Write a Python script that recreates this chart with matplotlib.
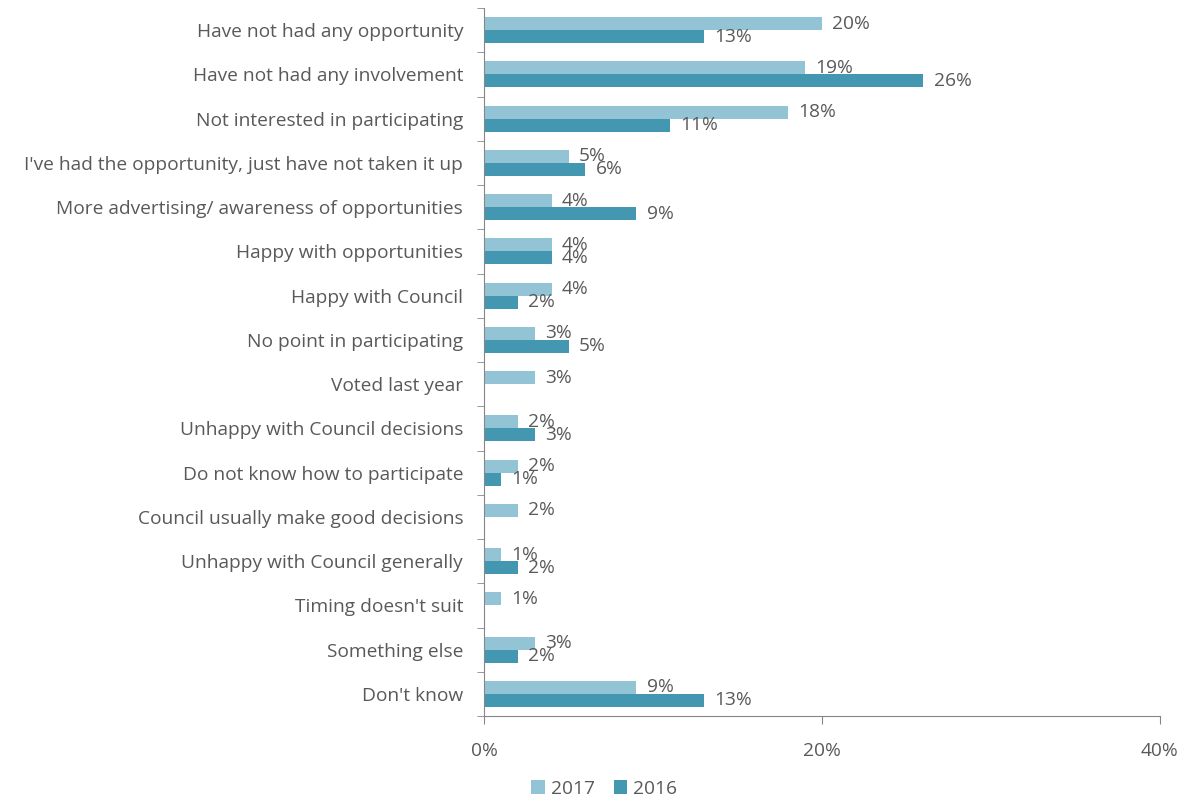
import numpy as np
import matplotlib
matplotlib.use('Agg')
import matplotlib.pyplot as plt

plt.rcParams['font.family'] = ['Open Sans', 'DejaVu Sans']

# Reasons for not participating
categories = [
    "Have not had any opportunity",
    "Have not had any involvement",
    "Not interested in participating",
    "I've had the opportunity, just have not taken it up",
    "More advertising/ awareness of opportunities",
    "Happy with opportunities",
    "Happy with Council",
    "No point in participating",
    "Voted last year",
    "Unhappy with Council decisions",
    "Do not know how to participate",
    "Council usually make good decisions",
    "Unhappy with Council generally",
    "Timing doesn't suit",
    "Something else",
    "Don't know",
]
vals_2017 = [20, 19, 18, 5, 4, 4, 4, 3, 3, 2, 2, 2, 1, 1, 3, 9]
vals_2016 = [13, 26, 11, 6, 9, 4, 2, 5, None, 3, 1, None, 2, None, 2, 13]
xticks = [0, 20, 40]

c17 = '#93c4d6'
c16 = '#4397b0'
txt = '#595959'
axc = '#868686'
fs = 13.8

fig = plt.figure(figsize=(11.94, 8), dpi=100)
ax = fig.add_axes([0.4054, 0.105, 0.5661, 0.885])

y = np.arange(len(categories))
h = 0.293

def draw(vals, off, color, label):
    yy = [y[i] + off for i, v in enumerate(vals) if v is not None]
    vv = [v for v in vals if v is not None]
    ax.barh(yy, vv, height=h, color=color, label=label)
    for yi, v in zip(yy, vv):
        ax.annotate(f"{v}%", (v, yi), xytext=(7.5, 0), textcoords='offset points',
                    va='center', ha='left', fontsize=fs, color=txt)

draw(vals_2017, -h / 2, c17, '2017')
draw(vals_2016, h / 2, c16, '2016')

ax.set_ylim(len(categories) - 0.5, -0.5)
ax.set_xlim(0, 40)
ax.set_xticks(xticks)
ax.set_xticklabels([f"{t}%" for t in xticks])
ax.set_yticks(y)
ax.set_yticklabels(categories)
ax.set_yticks(np.arange(len(categories) + 1) - 0.5, minor=True)
ax.tick_params(axis='y', which='major', length=0, pad=15, labelsize=fs, labelcolor=txt)
ax.tick_params(axis='y', which='minor', length=5, color=axc, direction='out')
ax.tick_params(axis='x', length=6, color=axc, pad=13, labelsize=fs, labelcolor=txt)

for s in ['top', 'right']:
    ax.spines[s].set_visible(False)
for s in ['left', 'bottom']:
    ax.spines[s].set_color(axc)

fig.legend(loc='center', bbox_to_anchor=(0.506, 0.014), ncol=2, frameon=False,
           fontsize=fs, labelcolor=txt, handlelength=0.7, handleheight=0.7,
           handletextpad=0.3, columnspacing=1.0)

fig.savefig('out.png', dpi=100)
